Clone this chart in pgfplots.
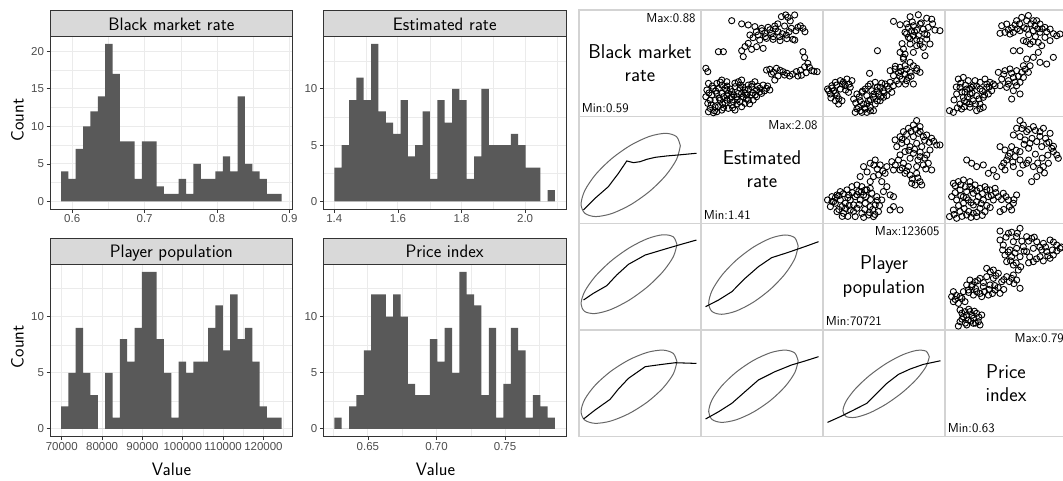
\documentclass[border=0pt]{standalone}
\usepackage{fontspec}
\usepackage{pgfplots}
\pgfplotsset{compat=1.18}
\newfontfamily\tickfamily{Liberation Sans}

\definecolor{barfill}{HTML}{595959}
\definecolor{gridcol}{HTML}{EBEBEB}
\definecolor{framecol}{HTML}{333333}
\definecolor{stripfill}{HTML}{D9D9D9}
\definecolor{tickcol}{HTML}{4D4D4D}
\definecolor{pairline}{HTML}{D3D3D3}
\definecolor{ellcol}{HTML}{666666}

\newcommand\tickfont{\tickfamily\fontsize{11.5}{13}\selectfont}
\newcommand\titlefont{\sffamily\fontsize{18}{20}\selectfont}
\newcommand\diagfont{\sffamily\fontsize{20}{23.3}\selectfont}
\newcommand\rangefont{\sffamily\fontsize{13}{15}\selectfont}

\pgfplotsset{
  hist/.style={
    scale only axis, anchor=south west,
    width=242.7pt, height=173.3pt,
    scaled x ticks=false, scaled y ticks=false,
    axis line style={draw=framecol, line width=0.8pt},
    xmajorgrids, ymajorgrids, xminorgrids, yminorgrids,
    major grid style={draw=gridcol, line width=0.9pt},
    minor grid style={draw=gridcol, line width=0.45pt},
    tick align=outside, tick pos=left,
    major tick length=3.3pt, minor tick length=0pt,
    tick style={draw=framecol, line width=0.8pt},
    ticklabel style={font=\tickfont, text=tickcol},
    xticklabel style={inner sep=2pt},
    yticklabel style={inner sep=2.5pt},
  },
  bars/.style={ybar interval, fill=barfill, draw=none},
  % pairs panels: coordinates are percent of each variable's range
  pair/.style={
    scale only axis, anchor=south west,
    width=122pt, height=106.67pt,
    xmin=-4, xmax=104, ymin=-4, ymax=104,
    xtick=\empty, ytick=\empty,
    axis line style={draw=pairline, line width=1.3pt},
  },
  pts/.style={only marks, mark=o, mark size=3.1pt,
    mark options={draw=black, line width=0.9pt}},
  ell/.style={smooth, no marks, draw=ellcol, line width=1pt},
  lss/.style={sharp plot, no marks, draw=black, line width=1.05pt},
}

\begin{document}
\begin{tikzpicture}[x=1pt,y=1pt]
\useasboundingbox (0,0) rectangle (1063,480);

% ---------------- histograms ----------------
\begin{axis}[hist, at={(50pt,270.7pt)},
  xmin=0.5693, xmax=0.9045, ymin=-1.05, ymax=22.05,
  xtick={0.6,0.7,0.8,0.9}, xticklabels={0.6,0.7,0.8,0.9},
  minor xtick={0.65,0.75,0.85},
  ytick={0,5,10,15,20}, yticklabels={0,5,10,15,20},
  minor ytick={2.5,7.5,12.5,17.5}]
\addplot[bars] coordinates {
(0.5845,4) (0.59466,3) (0.60482,7) (0.61498,10) (0.62514,12) (0.6353,14)
(0.64546,21) (0.65562,17) (0.66578,8) (0.67594,8) (0.6861,3) (0.69626,8)
(0.70642,8) (0.71658,2) (0.72674,1) (0.7369,1) (0.74706,3) (0.75722,1)
(0.76738,5) (0.77754,3) (0.7877,3) (0.79786,4) (0.80802,6) (0.81818,4)
(0.82834,14) (0.8385,5) (0.84866,4) (0.85882,3) (0.86898,1) (0.87914,1)
(0.8893,0)};
\end{axis}

\begin{axis}[hist, at={(323.3pt,270.7pt)},
  xmin=1.3653, xmax=2.1286, ymin=-0.7, ymax=14.7,
  xtick={1.4,1.6,1.8,2.0}, xticklabels={1.4,1.6,1.8,2.0},
  minor xtick={1.5,1.7,1.9,2.1},
  ytick={0,5,10}, yticklabels={0,5,10},
  minor ytick={2.5,7.5,12.5}]
\addplot[bars] coordinates {
(1.4000,3) (1.4231,5) (1.4463,9) (1.4694,11) (1.4925,9) (1.5157,14)
(1.5388,8) (1.5619,7) (1.5850,6) (1.6082,9) (1.6313,4) (1.6544,5)
(1.6776,8) (1.7007,2) (1.7238,9) (1.7470,7) (1.7701,10) (1.7932,9)
(1.8163,2) (1.8395,4) (1.8626,10) (1.8857,5) (1.9089,5) (1.9320,5)
(1.9551,6) (1.9783,5) (2.0014,3) (2.0245,3) (2.0476,0) (2.0708,1)
(2.0939,0)};
\end{axis}

\begin{axis}[hist, at={(50pt,43.3pt)}, height=172.7pt,
  xmin=67074, xmax=127252, ymin=-0.7, ymax=14.7,
  xtick={70000,80000,90000,100000,110000,120000},
  xticklabels={70000,80000,90000,100000,110000,120000},
  minor xtick={75000,85000,95000,105000,115000,125000},
  ytick={0,5,10}, yticklabels={0,5,10},
  minor ytick={2.5,7.5,12.5}]
\addplot[bars] coordinates {
(69809,2) (71633,5) (73456,9) (75280,5) (77104,3) (78927,0)
(80751,5) (82574,1) (84398,8) (86221,6) (88045,9) (89869,14)
(91692,14) (93516,8) (95339,5) (97163,1) (98987,6) (100810,5)
(102634,6) (104457,6) (106281,9) (108105,11) (109928,7) (111752,12)
(113575,8) (115399,9) (117223,6) (119046,2) (120870,1) (122693,1)
(124517,0)};
\end{axis}

\begin{axis}[hist, at={(323.3pt,43.3pt)}, height=172.7pt,
  xmin=0.61745, xmax=0.79445, ymin=-0.7, ymax=14.7,
  xtick={0.65,0.70,0.75}, xticklabels={0.65,0.70,0.75},
  minor xtick={0.625,0.675,0.725,0.775},
  ytick={0,5,10}, yticklabels={0,5,10},
  minor ytick={2.5,7.5,12.5}]
\addplot[bars] coordinates {
(0.62550,1) (0.63086,0) (0.63623,2) (0.64159,3) (0.64695,7) (0.65232,12)
(0.65768,12) (0.66304,10) (0.66841,12) (0.67377,10) (0.67913,4) (0.68450,3)
(0.68986,3) (0.69522,8) (0.70059,6) (0.70595,9) (0.71131,5) (0.71668,14)
(0.72204,12) (0.72740,11) (0.73277,3) (0.73813,9) (0.74349,1) (0.74886,4)
(0.75422,9) (0.75958,7) (0.76495,1) (0.77031,3) (0.77567,2) (0.78104,1)
(0.78640,0)};
\end{axis}

% facet strips
\draw[fill=stripfill, draw=framecol, line width=0.8pt] (50,444) rectangle (292.7,470);
\draw[fill=stripfill, draw=framecol, line width=0.8pt] (323.3,444) rectangle (566,470);
\draw[fill=stripfill, draw=framecol, line width=0.8pt] (50,215.7) rectangle (292.7,241.7);
\draw[fill=stripfill, draw=framecol, line width=0.8pt] (323.3,215.7) rectangle (566,241.7);
\node[font=\titlefont, anchor=base, inner sep=0pt] at (171.35,449.3) {Black market rate};
\node[font=\titlefont, anchor=base, inner sep=0pt] at (444.65,449.3) {Estimated rate};
\node[font=\titlefont, anchor=base, inner sep=0pt] at (171.35,222.3) {Player population};
\node[font=\titlefont, anchor=base, inner sep=0pt] at (444.65,222.3) {Price index};

% axis titles
\node[font=\titlefont, rotate=90, inner sep=0pt] at (17.5,360) {Count};
\node[font=\titlefont, rotate=90, inner sep=0pt] at (17.5,133.3) {Count};
\node[font=\titlefont, inner sep=0pt] at (171.5,10.5) {Value};
\node[font=\titlefont, inner sep=0pt] at (435.5,10.5) {Value};

% ---------------- pairs panels ----------------
% diagonal
\begin{axis}[pair, at={(579pt,363.3pt)}]\end{axis}
\begin{axis}[pair, at={(701pt,256.7pt)}]\end{axis}
\begin{axis}[pair, at={(823pt,150pt)}]\end{axis}
\begin{axis}[pair, at={(945pt,43.3pt)}]\end{axis}

\node[font=\diagfont, align=center, inner sep=0pt] at (640,416.7) {Black market\\rate};
\node[font=\rangefont, anchor=east, inner sep=0pt] at (695.7,461.7) {Max:0.88};
\node[font=\rangefont, anchor=west, inner sep=0pt] at (581.7,371.7) {Min:0.59};

\node[font=\diagfont, align=center, inner sep=0pt] at (762,310.8) {Estimated\\rate};
\node[font=\rangefont, anchor=east, inner sep=0pt] at (817.7,355) {Max:2.08};
\node[font=\rangefont, anchor=west, inner sep=0pt] at (703.7,265.1) {Min:1.41};

\node[font=\diagfont, align=center, inner sep=0pt] at (884,203.4) {Player\\population};
\node[font=\rangefont, anchor=east, inner sep=0pt] at (939.7,248.4) {Max:123605};
\node[font=\rangefont, anchor=west, inner sep=0pt] at (825.7,158.4) {Min:70721};

\node[font=\diagfont, align=center, inner sep=0pt] at (1006,96.7) {Price\\index};
\node[font=\rangefont, anchor=east, inner sep=0pt] at (1064,141.7) {Max:0.79};
\node[font=\rangefont, anchor=west, inner sep=0pt] at (947.7,51.7) {Min:0.63};

% upper panels: scatter
\begin{axis}[pair, at={(701pt,363.3pt)}]
\addplot[pts] coordinates {
(23.2,93.2)(32,90)(37.8,88.9)(43.7,87.2)(49.6,85.5)(55.4,86.5)(61.3,87.8)(67.2,97.3)
(73,96.6)(78.9,99)(70,87.8)(76,85.5)(81.8,86.5)(86.2,85.5)(64.2,82)(58.4,80.4)
(52.5,80.4)(46.6,78.7)(39.3,78.7)(48,73.6)(54,75.3)(59.8,74.3)(65.7,77)(71.6,78.7)
(77.4,74.3)(79,73.6)(37.8,70.3)(40.8,64.2)(33.4,56.8)(32,62.8)(45.2,66.9)(51,65.2)
(11.4,61.8)(15.8,61.8)
(45,82)(50,83)(57,84)(62,85)(68,80)(74,82)(80,83)(84,88)(60,77)(66,73)(72,75)(53,77)
(42,76)(35,67)(75,93)(71,99)(64,90)(88,82)
(86.2,61.8)(87.7,56)(90.6,50)(94,42.6)(98.8,41.6)(87.7,46.6)(80.4,41.6)(74.5,37.2)
(68.6,41.6)(62.8,45)(56.9,44)(58.4,39.2)(64.2,37.2)(70,38.2)(81.8,37.2)(89.1,40.5)
(54,43.2)(61.3,33.1)(0.3,45)(2,41.6)
(60,41)(66,43)(72,40)(77,39)(84,43)(92,46)(96,42)(85,38)
(1.2,23)(0.3,16.2)(2,9.5)(4.1,4.4)(2.6,1)(7,0)(10,1)(11.4,6.1)(8.5,12.8)(5.6,17.9)
(7,24.7)(10,29.7)(14.4,33.1)(18.8,31.4)(17.3,24.7)(14.4,19.6)(12.9,12.8)(17.3,9.5)
(20.2,4.4)(23.2,7.8)(21.7,14.5)(23.2,21.3)(26.1,26.4)(29,31.4)(32,33.1)(27.6,16.2)
(30.5,11.1)(33.4,16.2)(34.9,23)(37.8,28)(40.8,26.4)(43.7,31.4)(45.2,23)(40.8,17.9)
(37.8,12.8)(36.4,17.9)(48.1,24.7)(51,28)(54,24.7)(56.9,23)(49.6,19.6)(45.2,16.2)
(32,6.1)(26.1,2.7)(14.4,2.7)(18.8,12.8)(24.6,11.1)(10,19.6)(2.6,29.7)(11.4,24.7)
(15.8,16.2)(29,19.6)(34.9,9.5)(42.2,12.8)(20.2,19.6)(23.2,16.2)(18.8,23)(14.4,28)
(4.1,12.8)(8.5,6.1)(30.5,24.7)(32,19.6)
(3,20)(6,27)(9,22)(12,15)(15,9)(19,27)(22,24)(25,18)(28,13)(31,28)(35,20)(38,24)
(42,20)(46,27)(48,21)(52,22)(55,27)(13,31)(16,5)(24,5)(28,9)(39,9)(44,18)(8,2)
(5,8)(19,17)(33,26)(26,30)(41,29)(36,14)};
\end{axis}

\begin{axis}[pair, at={(823pt,363.3pt)}]
\addplot[pts] coordinates {
(58.4,92.5)(64.2,89.1)(73.1,97.2)(80.4,99.2)(87.8,95.7)(92.2,94.7)(81.9,89.8)(76,88.1)
(71.6,86.4)(68.6,81.4)(74.5,83.1)(78.9,83.7)(84.8,84.7)(89.2,86.4)(95.1,83.7)(99.5,83.1)
(80.4,78)(76,78)(71.6,76.3)(81.9,72.9)(87.8,74.6)(90.7,69.6)(84.8,66.2)(78.9,67.9)
(73.1,69.6)(67.2,64.5)(64.2,61.1)(68.6,59.4)(76,61.1)(86.3,57.8)(44.2,62.8)
(70,90)(75,92)(83,91)(86,80)(79,74)(73,75)(70,80)(82,69)(88,79)(93,90)(77,82)(66,70)
(55.4,42.6)(59.8,44.3)(64.2,46)(68.6,47.6)(73.1,51)(67.2,54.4)(62.8,40.9)(68.6,39.2)
(73.1,40.9)(78.9,42.6)(81.9,40.9)(65.7,34.1)(70.1,32.5)(62.8,29.1)(76,29.1)(67.2,56.1)
(76,47.6)(71.6,35.8)(58.4,37.5)(37.2,39.9)
(60,47)(65,42)(70,44)(74,37)(79,45)(64,37)(69,29)
(0,24)(3.9,27.4)(6.9,30.8)(11.3,32.5)(17.2,34.1)(21.6,32.5)(20.1,25.7)(5.4,22.3)
(2.5,19)(8.4,17.3)(12.8,12.2)(9.8,8.8)(6.9,12.2)(1,22.3)(15.7,27.4)(11.3,24)(18.6,20.7)
(4,25)(8,28)(13,29)(16,23)(3,15)(7,20)(10,14)(14,31)(19,29)
(23.1,13.9)(26,19)(30.4,20.7)(33.4,24)(37.8,29.1)(42.2,30.8)(46.6,25.7)(49.5,22.3)
(53.9,24)(56.9,20.7)(52.5,17.3)(45.1,19)(40.7,15.6)(36.3,12.2)(31.9,8.8)(27.5,5.5)
(24.5,0.4)(30.4,0.4)(34.8,0.4)(37.8,5.5)(42.2,8.8)(46.6,12.2)(49.5,15.6)(43.6,22.3)
(39.2,22.3)(34.8,17.3)(28.9,12.2)(51,29.1)(55.4,30.8)(61.3,32.5)(58.4,27.4)(33.4,3.8)
(40.7,2.1)
(25,10)(28,16)(31,22)(35,9)(38,13)(41,19)(44,26)(47,16)(50,20)(33,5)(29,2)(38,2)
(44,12)(53,27)(26,4)(36,27)(48,30)};
\end{axis}

\begin{axis}[pair, at={(945pt,363.3pt)}]
\addplot[pts] coordinates {
(46.2,88.1)(50.6,89.8)(55,85.8)(59.4,93.2)(63.9,96.6)(69.8,98.4)(74.2,93.2)(80.1,89.8)
(84.5,86.4)(89,84.7)(94.9,78)(97.8,79.7)(62.4,83.1)(56.5,81.4)(49.1,81.4)(44.7,80.4)
(68.3,84.7)(74.2,83.1)(80.1,81.4)(84.5,76.3)(78.6,71.2)(81.6,67.9)(65.4,73)(71.3,69.6)
(89,73)(75.7,88.1)(53.5,79.7)(77.2,93.2)(68.3,93.2)
(58,89)(62,90)(66,86)(72,90)(78,85)(86,82)(82,85)(70,79)(76,77)(60,85)(52,84)(92,80)
(74,72)(68,72)
(56.5,62.8)(62.4,62.8)(68.3,54.4)(74.2,56.1)(80.1,51)(86,49.3)(91.9,56.1)(78.6,61.1)
(71.3,47.6)(65.4,47.6)
(43.2,40.9)(49.1,42.6)(53.5,44.3)(59.4,42.6)(63.9,40.9)(69.8,40.9)(46.2,34.1)(52.1,32.5)
(56.5,35.8)(62.4,30.8)(38.8,29.1)(44.7,27.4)(50.6,25.7)(56.5,22.3)(62.4,19)(55,13.9)
(59.4,27.4)(65.4,35.8)
(48,39)(55,40)(61,37)(67,44)(58,31)(52,29)
(7.8,34.1)(12.2,35.8)(16.6,32.5)(22.6,32.5)(27,30.8)(31.4,34.1)(9.3,25.7)(15.2,24)
(21.1,27.4)(27,24)(32.9,25.7)(37.3,22.3)(6.3,19)(12.2,15.6)(18.1,19)(24,17.3)
(29.9,15.6)(34.4,19)(15.2,10.5)(21.1,12.2)(27,8.8)(9.3,8.8)(18.1,5.5)(24,2.1)
(29.9,5.5)(0,2.1)(3.4,0.4)(10.7,3.8)(19.6,25.7)(13.7,20.7)(40.3,27.4)(35.8,30.8)
(10,30)(14,28)(18,24)(24,27)(29,22)(33,29)(11,21)(16,16)(20,20)(26,14)(31,18)(13,12)
(18,9)(23,9)(6,26)(4,13)(7,5)(13,6)(27,4)(35,26)};
\end{axis}

\begin{axis}[pair, at={(823pt,256.7pt)}]
\addplot[pts] coordinates {
(59.8,80.4)(64.2,83.7)(67.2,88.8)(71.6,92.2)(76,95.5)(78.9,100)(81.9,93.9)(80.4,87.1)
(84.8,83.7)(87.8,85.4)(92.2,82.1)(96.6,75.3)(99.5,75.3)(65.7,77)(70.1,78.7)(73.1,73.6)
(78.9,77)(83.4,73.6)(76,66.9)(81.9,63.5)(87.8,65.2)(89.2,56.8)(84.8,55.1)(92.2,50)
(78.9,53.4)(73.1,61.8)(68.6,68.6)(61.3,73.6)(64.2,65.2)(90.7,70.2)(76,83.7)
(70,86)(74,89)(78,91)(82,89)(86,80)(90,78)(72,70)(77,71)(82,68)(86,62)(66,81)(94,79)
(80,60)(87,51)
(56.9,58.4)(62.8,60.1)(67.2,56.8)(71.6,53.4)(68.6,46.6)(73.1,44.9)(78.9,46.6)(81.9,38.2)
(83.4,34.8)(77.5,34.8)(74.5,36.5)(58.4,50)(64.2,50)(31.9,53.4)(37.8,56.8)(42.2,60.1)
(46.6,55.1)(52.5,53.4)(51,46.6)(45.1,44.9)(40.7,43.3)(48,38.2)(37.8,38.2)(28.9,43.3)
(55.4,24.7)(58.4,12.9)(55.4,9.5)(64.2,9.5)(33.4,29.8)(37.8,31.4)
(60,55)(66,52)(70,49)(75,41)(80,42)(35,48)(44,51)(49,49)(41,55)
(0,19.6)(3.9,23)(8.4,24.7)(11.3,28.1)(17.2,29.8)(21.6,33.1)(26,34.8)(30.4,33.1)
(34.8,29.8)(39.2,26.4)(43.6,23)(48,19.6)(2.5,12.9)(6.9,16.3)(11.3,19.6)(15.7,16.3)
(20.1,19.6)(24.5,23)(28.9,19.6)(33.4,16.3)(37.8,12.9)(42.2,14.6)(8.4,7.8)(14.2,6.1)
(20.1,9.5)(26,11.2)(30.4,6.1)(36.3,4.4)(40.7,2.8)(45.1,7.8)(24.5,2.8)(5.4,17.9)
(12.8,12.9)(23.1,14.6)(31.9,24.7)(27.5,28.1)(18.7,24.7)(49.5,28.1)(52.5,33.1)(58.4,23)
(4,18)(7,22)(10,24)(14,26)(18,22)(22,27)(26,25)(30,28)(34,23)(38,20)(10,10)(16,11)
(19,14)(23,8)(28,15)(33,10)(37,7)(42,5)(18,3)(13,3)(32,2)(46,14)(44,19)(40,10)};
\end{axis}

\begin{axis}[pair, at={(945pt,256.7pt)}]
\addplot[pts] coordinates {
(62.4,100)(65.3,95.5)(59.4,92.2)(68.3,88.8)(74.2,93.9)(80.1,88.8)(83.1,92.2)(89,87.1)
(56.5,85.4)(62.4,83.7)(66.8,80.4)(71.2,77)(77.2,78.7)(81.6,73.6)(86,77)(90.5,71.9)
(91.9,68.6)(94.9,65.2)(96.3,61.8)(44.7,73.6)(49.1,70.2)(53.5,66.9)(58,63.5)(62.4,60.1)
(68.3,56.8)(74.2,53.4)(80.1,50)(83.1,53.4)(87.5,56.8)(77.2,43.3)(72.7,38.2)(62.4,68.6)
(55,73.6)(50.6,60.1)(56.5,53.4)(62.4,46.6)(49.1,50)(46.2,53.4)(15.2,60.1)(19.6,56.8)
(24,53.4)(29.9,55.1)(34.4,46.6)(38.8,50)(41.7,43.3)
(64,92)(70,91)(76,90)(80,84)(85,82)(88,78)(73,82)(66,76)(70,72)(76,66)(82,62)(87,65)
(92,74)(59,70)(52,64)(48,57)(56,58)(65,55)(70,60)(78,57)(84,47)
(3.4,36.5)(7.8,38.2)(12.3,39.9)(18.1,38.2)(22.6,34.8)(27,31.4)(31.4,33.1)(35.9,29.8)
(40.3,31.4)(9.3,29.8)(15.2,28.1)(21.1,26.4)(25.5,23)(29.9,19.6)(34.4,23)(1.9,23)
(6.3,19.6)(12.3,16.3)(16.6,19.6)(21.1,14.6)(27,11.2)(31.4,7.8)(3.4,9.5)(9.3,7.8)
(15.2,4.4)(21.1,6.1)(0,2.8)(6.3,1.1)(24,2.8)(38.8,19.6)(43.2,23)(47.6,26.4)
(52.1,19.6)(56.5,16.3)(55,9.5)(44.7,7.8)(59.4,24.7)(18.1,33.1)(12.3,23)
(5,34)(10,35)(14,33)(20,31)(24,29)(29,26)(33,30)(5,27)(10,24)(15,22)(19,17)(24,18)
(28,16)(33,14)(8,14)(13,11)(17,8)(24,7)(29,4)(4,5)(11,3)(19,2)(37,24)(41,27)(46,20)
(50,23)(53,13)(48,10)(57,20)(36,12)};
\end{axis}

\begin{axis}[pair, at={(945pt,150pt)}]
\addplot[pts] coordinates {
(44.7,96.2)(52.1,93.9)(56.5,85.4)(62.4,98.9)(59.4,90.5)(68.3,90.5)(72.7,88.8)(77.2,85.4)
(83.1,83.7)(89,87.1)(94.9,82)(97.8,78.7)(91.9,71.9)(86,75.3)(80.1,70.2)(74.2,65.2)
(65.3,80.4)(59.4,78.7)(53.5,77)(47.6,82)(49.1,71.9)(55,70.2)(62.4,70.2)(68.3,75.3)
(74.2,78.7)(81.6,77)(89,68.6)(50.6,65.2)(56.5,61.8)(60.9,56.7)(56.5,51.7)(44.7,87.1)
(50,90)(55,95)(60,94)(64,86)(70,86)(75,90)(80,80)(85,80)(91,77)(95,76)(87,71)(83,66)
(77,68)(71,70)(66,76)(58,74)(52,75)(47,77)(54,66)(59,64)(63,60)(70,64)(92,85)(99,80)
(32.9,58.4)(38.8,56.7)(43.2,53.4)(50.6,50)(55,48.3)(59.4,46.6)(62.4,38.2)(46.2,44.9)
(38.8,48.3)(32.9,50)(27,48.3)(22.6,44.9)(18.1,46.6)(15.2,41.6)(19.6,39.9)(24,34.8)
(29.9,39.9)(35.8,41.6)(40.3,36.5)(44.7,33.1)(34.4,31.4)(28.5,29.8)(21.1,31.4)(16.6,36.5)
(12.3,34.8)(9.3,29.8)(3.4,34.8)(1.9,29.8)(3.4,24.7)(7.8,23)(13.7,24.7)
(36,55)(41,51)(48,47)(53,45)(57,43)(25,46)(30,44)(35,37)(40,41)(43,39)(20,42)(17,34)
(23,38)(27,33)(31,35)(38,33)(6,31)(11,28)(5,27)(48,37)
(9.3,16.3)(13.7,14.6)(18.1,14.6)(24,12.9)(28.5,11.2)(12.3,9.5)(16.6,6.1)(21.1,7.8)
(25.5,4.4)(9.3,4.4)(15.2,1.1)(21.1,2.8)(27,1.1)(7.8,0)
(11,13)(15,11)(20,11)(26,9)(14,3)(19,5)(23,3)(11,7)(17,17)(22,15)};
\end{axis}

% lower panels: ellipse and smoothed fit
\begin{axis}[pair, at={(579pt,256.7pt)}]
\addplot[ell] coordinates {(85.70,74.46)(82.35,83.73)(72.83,87.10)(58.57,84.05)(41.75,75.05)
(24.93,61.47)(10.67,45.37)(1.15,29.21)(-2.20,15.44)(1.15,6.17)(10.67,2.80)(24.93,5.85)
(41.75,14.85)(58.57,28.43)(72.83,44.53)(82.35,60.69)(85.70,74.46)};
\addplot[lss] coordinates {(0,9.5)(10.2,21.3)(22,33.1)(30.9,46.6)(38.3,59.1)(44.2,57.4)
(50.1,58.4)(56.1,60.8)(63.5,62.8)(73.8,64.2)(84.2,65.2)(100,66.9)};
\end{axis}

\begin{axis}[pair, at={(579pt,150pt)}]
\addplot[ell] coordinates {(82.70,82.51)(79.47,90.34)(70.27,92.42)(56.50,88.43)(40.25,78.97)
(24.00,65.50)(10.23,50.05)(1.03,34.98)(-2.20,22.59)(1.03,14.76)(10.23,12.68)(24.00,16.67)
(40.25,26.13)(56.50,39.60)(70.27,55.05)(79.47,70.12)(82.70,82.51)};
\addplot[lss] coordinates {(0,26.4)(8.7,33.1)(20.6,40.9)(29.4,51.7)(39.8,62.5)(54.6,71.9)
(69.4,77)(84.2,82)(100,87.1)};
\end{axis}

\begin{axis}[pair, at={(701pt,150pt)}]
\addplot[ell] coordinates {(82.00,80.96)(78.99,89.42)(70.40,92.19)(57.55,88.86)(42.40,79.91)
(27.25,66.73)(14.40,51.31)(5.81,36.01)(2.80,23.14)(5.81,14.68)(14.40,11.91)(27.25,15.24)
(42.40,24.19)(57.55,37.37)(70.40,52.79)(78.99,68.09)(82.00,80.96)};
\addplot[lss] coordinates {(0,19.6)(11.6,26.4)(23.3,34.8)(35,48.3)(46.8,60.1)(58.5,69.2)
(73.2,74.6)(87.9,80.4)(100,85.4)};
\end{axis}

\begin{axis}[pair, at={(579pt,43.3pt)}]
\addplot[ell] coordinates {(82.70,71.83)(79.47,80.32)(70.27,83.67)(56.50,81.38)(40.25,73.80)
(24.00,62.08)(10.23,48.00)(1.03,33.70)(-2.20,21.37)(1.03,12.88)(10.23,9.53)(24.00,11.82)
(40.25,19.40)(56.50,31.12)(70.27,45.20)(79.47,59.50)(82.70,71.83)};
\addplot[lss] coordinates {(0,13.9)(10.2,23)(23.5,33.8)(30.9,44.3)(39.8,55.1)(54.6,66.9)
(69.4,69.2)(81.2,70.9)(100,70.2)};
\end{axis}

\begin{axis}[pair, at={(701pt,43.3pt)}]
\addplot[ell] coordinates {(82.00,72.72)(78.99,80.77)(70.40,83.70)(57.55,81.05)(42.40,73.24)
(27.25,61.44)(14.40,47.46)(5.81,33.43)(2.80,21.48)(5.81,13.43)(14.40,10.50)(27.25,13.15)
(42.40,20.96)(57.55,32.76)(70.40,46.74)(78.99,60.77)(82.00,72.72)};
\addplot[lss] coordinates {(0,13.9)(11.6,21.3)(23.3,29.8)(35,41.6)(46.8,53.4)(61.4,61.8)
(76.1,68.6)(87.9,72.6)(100,77)};
\end{axis}

\begin{axis}[pair, at={(823pt,43.3pt)}]
\addplot[ell] coordinates {(90.10,76.86)(87.19,82.63)(78.90,83.36)(66.49,78.93)(51.85,70.02)
(37.21,57.99)(24.80,44.66)(16.51,32.08)(13.60,22.14)(16.51,16.37)(24.80,15.64)(37.21,20.07)
(51.85,28.98)(66.49,41.01)(78.90,54.34)(87.19,66.92)(90.10,76.86)};
\addplot[lss] coordinates {(0,10.5)(11.3,16.3)(23.1,23)(34.8,29.8)(43.6,39.9)(52.5,50)
(62.8,59.1)(73.1,64.5)(84.8,69.2)(100,72.9)};
\end{axis}

\end{tikzpicture}
\end{document}
